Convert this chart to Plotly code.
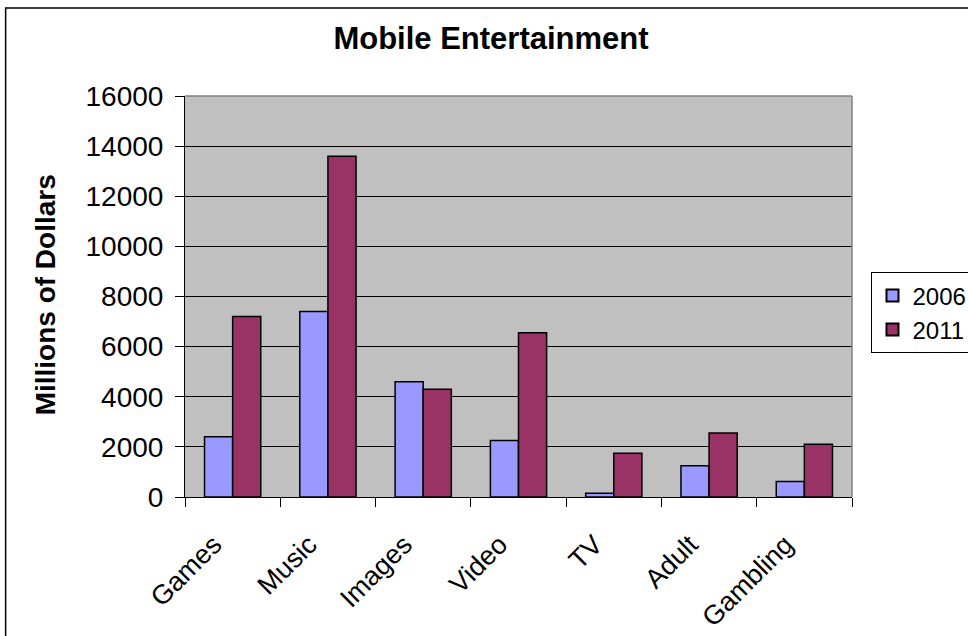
import plotly.graph_objects as go

categories = ["Games", "Music", "Images", "Video", "TV", "Adult", "Gambling"]
values_2006 = [2400, 7400, 4600, 2250, 150, 1250, 620]
values_2011 = [7200, 13600, 4300, 6550, 1750, 2550, 2100]
y_ticks = [0, 2000, 4000, 6000, 8000, 10000, 12000, 14000, 16000]

FONT = "Liberation Sans, Arial, sans-serif"

fig = go.Figure()
fig.add_trace(go.Bar(
    x=categories, y=values_2006, name="2006",
    marker=dict(color="#9999FF", line=dict(color="black", width=1.5)),
))
fig.add_trace(go.Bar(
    x=categories, y=values_2011, name="2011",
    marker=dict(color="#993366", line=dict(color="black", width=1.5)),
))

L, R, T, B = 185, 115.5, 95.5, 139
W, H = 968, 636
pw = W - L - R
ph = H - T - B

def px_x(x):
    return (x - L) / pw

def px_y(y):
    return (H - B - y) / ph

fig.update_layout(
    width=W, height=H,
    margin=dict(l=L, r=R, t=T, b=B, pad=0, autoexpand=False),
    paper_bgcolor="white",
    plot_bgcolor="#C0C0C0",
    barmode="group",
    bargap=0.41,
    bargroupgap=0,
    font=dict(family=FONT, color="black", size=27),
    title=dict(
        text="<b>Mobile Entertainment</b>",
        x=491 / W, xanchor="center", xref="container",
        y=1 - 38 / H, yanchor="middle", yref="container",
        font=dict(family=FONT, size=31, color="black"),
    ),
    showlegend=True,
    legend=dict(
        x=px_x(872), y=px_y(272), xanchor="left", yanchor="top",
        bgcolor="white", bordercolor="black", borderwidth=1,
        font=dict(family=FONT, size=24, color="black"),
        itemsizing="constant", tracegroupgap=0,
    ),
    xaxis=dict(
        type="category",
        tickson="boundaries",
        ticks="outside", ticklen=9, tickcolor="black", tickwidth=1,
        ticklabelstandoff=20,
        ticklabelshift=-19,
        showline=True, linecolor="black", linewidth=1,
        showgrid=False,
        tickangle=-45,
        tickfont=dict(family=FONT, size=27, color="black"),
    ),
    yaxis=dict(
        range=[0, 16000],
        tickvals=y_ticks,
        ticktext=[str(v) for v in y_ticks],
        ticks="outside", ticklen=9, tickcolor="black", tickwidth=1,
        ticklabelstandoff=6,
        showline=True, linecolor="black", linewidth=1,
        showgrid=True, gridcolor="black", gridwidth=1,
        zeroline=False,
        tickfont=dict(family=FONT, size=28, color="black"),
    ),
    shapes=[
        # gray frame on the top and right of the plot area
        dict(type="line", xref="paper", yref="paper", x0=0, x1=1, y0=1, y1=1,
             line=dict(color="#808080", width=1.5)),
        dict(type="line", xref="paper", yref="paper", x0=1, x1=1, y0=0, y1=1,
             line=dict(color="#808080", width=1.5)),
        # outer chart border
        dict(type="rect", xref="paper", yref="paper",
             x0=px_x(5.5), x1=px_x(975), y0=px_y(645), y1=px_y(7.5),
             line=dict(color="black", width=1.5), layer="below"),
    ],
    annotations=[
        dict(text="<b>Millions of Dollars</b>", textangle=-90,
             xref="paper", yref="paper", x=px_x(45), y=px_y(295),
             xanchor="center", yanchor="middle", showarrow=False,
             font=dict(family=FONT, size=28, color="black")),
    ],
)

fig.write_html("out.html")
